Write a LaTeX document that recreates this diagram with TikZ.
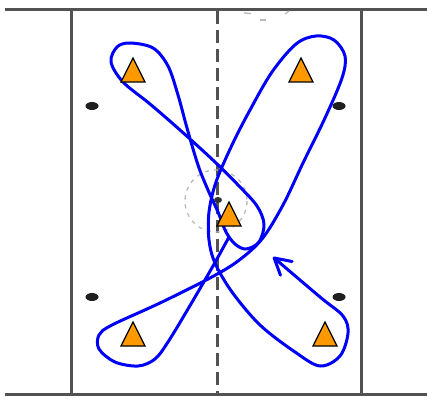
\documentclass[tikz,border=0pt]{standalone}
\usetikzlibrary{arrows.meta}
\definecolor{coneorange}{RGB}{255,153,0}
\definecolor{runblue}{RGB}{0,0,250}
\begin{document}
\begin{tikzpicture}[x=1pt,y=-1pt,
  rink/.style={line width=3pt, draw=black!68},
  halfway/.style={line width=3pt, draw=black!68, dash pattern=on 13pt off 6pt},
  spot/.style={fill=black!88},
  faint/.style={draw=black!28, line width=1.3pt},
  run/.style={line width=3pt, draw=runblue, line cap=round, line join=round},
  cone/.style={fill=coneorange, draw=black, line width=1.2pt, line join=miter}]
\useasboundingbox (0,0) rectangle (427,398);
% rink
\draw[rink] (5,9.5) -- (427,9.5);
\draw[rink] (5,394.5) -- (427,394.5);
\draw[rink] (71,9.5) -- (71,394.5);
\draw[rink] (361,9.5) -- (361,394.5);
\draw[halfway] (217,11) -- (217,394.5);
% faint marks
\draw[faint, dash pattern=on 4pt off 5pt] (216,201) circle (31);
\draw[faint] (244,13) -- (251,13.5);
\draw[faint] (260,20) -- (266,20);
\draw[faint] (285,14) -- (289,11);
% spots
\fill[spot] (92,106) ellipse (6.5 and 4);
\fill[spot] (339,106) ellipse (6.5 and 4);
\fill[spot] (92,297) ellipse (6.5 and 4);
\fill[spot] (339,297) ellipse (6.5 and 4);
\fill[black!80] (218,200) ellipse (4 and 3);
% closed run: top-left loop and middle loop
\draw[run] plot[smooth cycle, tension=0.55] coordinates {
 (130,43) (153,48) (168,66) (178,95) (187,128) (198,165) (208,190) (218,212)
 (226,232) (235,244) (246,249) (259,242) (264,224) (257,206) (240,187)
 (215,162) (180,130) (150,104) (123,82) (111,62) (117,47)};
% main run with arrow
\draw[run, -{Straight Barb[length=16pt,width=18pt,round]}] plot[smooth, tension=0.55] coordinates {
 (229,237) (213,266) (188,309) (168,342) (155,359) (138,366) (115,362) (99,349)
 (99,335) (112,325) (160,303) (210,278) (238,261) (262,239) (283,205) (303,163)
 (325,118) (342,78) (345,56) (334,40) (316,36) (296,44) (272,72) (250,110)
 (232,145) (216,182) (209,212) (209,240) (215,263) (232,292) (260,325) (295,352)
 (320,366) (340,356) (348,333) (343,316) (320,297) (273,257)};
% cones
\coordinate (c1) at (133,58);
\coordinate (c2) at (301,58);
\coordinate (c3) at (229,202);
\coordinate (c4) at (133,322);
\coordinate (c5) at (325,322);
\foreach \c in {c1,c2,c3,c4,c5}
  \draw[cone] (\c) -- ++(12,24) -- ++(-24,0) -- cycle;
\end{tikzpicture}
\end{document}
